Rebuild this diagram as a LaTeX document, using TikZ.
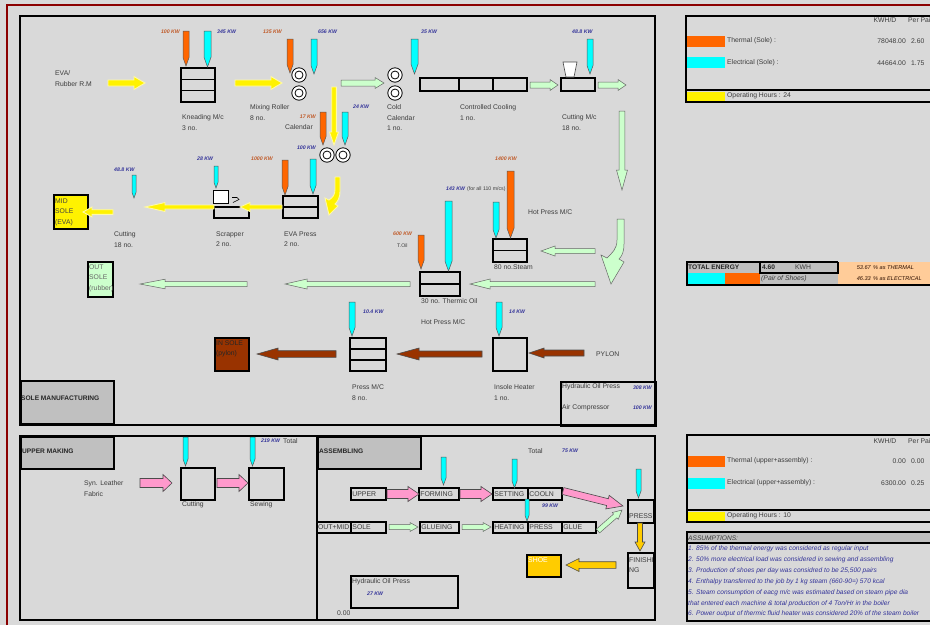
\documentclass[tikz,border=0pt]{standalone}
\usepackage{fontspec}
\setmainfont{Liberation Sans}
\usetikzlibrary{calc,positioning}

\definecolor{bggray}{HTML}{D9D9D9}
\definecolor{hdrgray}{HTML}{C0C0C0}
\definecolor{framered}{HTML}{8B0000}
\definecolor{thermal}{HTML}{FF6600}
\definecolor{elec}{HTML}{00FFFF}
\definecolor{paleg}{HTML}{CCFFCC}
\definecolor{pinkish}{HTML}{FF99CC}
\definecolor{brownish}{HTML}{993300}
\definecolor{gold}{HTML}{FFCC00}
\definecolor{peach}{HTML}{FFCC99}
\definecolor{kwblue}{HTML}{333399}
\definecolor{kworange}{HTML}{C05A28}
\definecolor{txtgray}{HTML}{3C3C3C}

% feed pin: colour, x left, x right, y top, y tip
\newcommand{\feed}[5]{%
  \draw[pinline,fill=#1] (#2,#4) -- (#3,#4) -- (#3,{#5-1.4*(#3-#2)}) -- ({(#2+#3)/2},#5) -- (#2,{#5-1.4*(#3-#2)}) -- cycle;}
% block arrow: style, from, to, shaft half, head half, head length
\newcommand{\blockarrow}[6]{%
  \coordinate (ba-s) at #2;
  \coordinate (ba-e) at #3;
  \coordinate (ba-h) at ($(ba-e)!#6pt!(ba-s)$);
  \draw[#1] ($(ba-s)!#4pt!90:(ba-e)$) -- ($(ba-h)!#4pt!90:(ba-e)$) -- ($(ba-h)!#5pt!90:(ba-e)$) -- (ba-e)
    -- ($(ba-h)!#5pt!-90:(ba-e)$) -- ($(ba-h)!#4pt!-90:(ba-e)$) -- ($(ba-s)!#4pt!-90:(ba-e)$) -- cycle;}
% machine box: options, name, x1, y1, x2, y2
\newcommand{\machine}[6][]{%
  \node[mc,anchor=north west,minimum width={#5-#3},minimum height={#6-#4},#1] (#2) at (#3,#4) {};}
\newcommand{\hdiv}[2]{\draw[mc] ($(#1.north west)!#2!(#1.south west)$) -- ($(#1.north east)!#2!(#1.south east)$);}
\newcommand{\vdiv}[2]{\draw[mc] ($(#1.north west)!#2!(#1.north east)$) -- ($(#1.south west)!#2!(#1.south east)$);}
\newcommand{\roller}[2]{\draw[roll] (#1,#2) circle (7.2) (#1,#2) circle (4);}

\begin{document}
\begin{tikzpicture}[x=1pt,y=-1pt,
  panel/.style={draw=black,line width=1.6pt},
  mc/.style={draw=black,line width=1.3pt,inner sep=0pt,outer sep=0pt},
  roll/.style={draw=black,line width=0.8pt,fill=white},
  pinline/.style={draw=black!65,line width=0.5pt},
  yarrow/.style={fill=yellow,draw=yellow!35!white,line width=0.9pt},
  garrow/.style={fill=paleg,draw=black!60,line width=0.5pt},
  karrow/.style={fill=pinkish,draw=black!70,line width=0.6pt},
  brarrow/.style={fill=brownish,draw=black!70,line width=0.6pt},
  darrow/.style={fill=gold,draw=black!70,line width=0.6pt},
  txt/.style={font=\fontsize{6.8}{10.5}\selectfont,text=txtgray,inner sep=0pt,anchor=west},
  mtxt/.style={txt,align=left,anchor=north west},
  kwb/.style={font=\fontsize{5.2}{6}\selectfont\bfseries\itshape,text=kwblue,inner sep=0pt,anchor=west},
  kwo/.style={kwb,text=kworange},
  small/.style={font=\fontsize{5.2}{6}\selectfont,text=txtgray,inner sep=0pt,anchor=west},
  hdr/.style={font=\fontsize{6.6}{8}\selectfont\bfseries,text=black!85,inner sep=0pt,anchor=west},
  btxt/.style={font=\fontsize{6.9}{8}\selectfont,text=txtgray,inner sep=0pt,anchor=west},
  asm/.style={font=\fontsize{6.6}{8}\selectfont\itshape,text=kwblue,inner sep=0pt,anchor=west}
]
\useasboundingbox (0,0) rectangle (930,625);
\clip (0,0) rectangle (930,625);
\fill[bggray] (0,0) rectangle (930,625);
\draw[framered,line width=2pt] (6.5,625) -- (6.5,5) -- (930,5);

% ---------------- sole manufacturing
\draw[panel] (20,16) rectangle (655,425);
\node[panel,fill=hdrgray,anchor=south west,minimum width=93,minimum height=43,inner sep=0pt] (solehdr) at (20,425) {};
\node[hdr] (solehdr-t) at (21,398) {SOLE MANUFACTURING};
\node[panel,anchor=north west,minimum width=95,minimum height=44,inner sep=0pt] (hydsole) at (560,381) {};
\node[txt] (hydsole-a) at (562,387) {Hydraulic Oil Press};
\node[kwb,anchor=east] (hydsole-b) at (652,388) {308 KW};
\node[txt] (aircomp-a) at (562,408) {Air Compressor};
\node[kwb,anchor=east] (aircomp-b) at (652,408) {100 KW};

% machines
\machine{knead}{181}{68}{215}{102}
\hdiv{knead}{1/3} \hdiv{knead}{2/3}
\machine{ccool}{420}{78}{527}{91}
\vdiv{ccool}{0.364} \vdiv{ccool}{0.682}
\machine{cutmc}{561}{78}{595}{91}
\draw[fill=white,draw=black!70,line width=0.6pt] (563,62) -- (577,62) -- (574,77) -- (566,77) -- cycle;
\machine{evapress}{283}{196}{318}{218}
\hdiv{evapress}{0.5}
\machine{scrap}{214}{207}{249}{218}
\machine[fill=white,line width=0.7pt]{scraptop}{213}{190}{228}{203}
\draw[line width=0.6pt] (232,197.5) -- (237,197.5) -- (239,199.5) -- (233,202.5);
\machine{steam}{493}{239}{527}{262}
\hdiv{steam}{0.5}
\machine{thermic}{420}{272}{460}{296}
\hdiv{thermic}{0.5}
\machine{pressmc}{350}{338}{386}{371}
\hdiv{pressmc}{1/3} \hdiv{pressmc}{2/3}
\machine{heater}{493}{338}{527}{371}
\machine[fill=yellow]{midsole}{54}{195}{88}{229}
\node[mtxt,text=black!75] (midsole-t) at (55,198.5) {MID\\SOLE\\(EVA)};
\machine[fill=paleg]{outsole}{88}{262}{113}{297}
\node[mtxt,text=black!60] (outsole-t) at (89,264.5) {OUT\\SOLE\\(rubber)};
\machine[fill=brownish]{insole}{215}{338}{249}{371}
\node[mtxt,text=black!85] (insole-t) at (216,340.5) {IN SOLE\\(pylon)};

\roller{299}{75} \roller{299}{93}
\roller{327}{155} \roller{343}{155}
\roller{395}{75} \roller{395}{93}

% feed pins
\feed{thermal}{183}{189}{31}{66}
\feed{elec}{204}{211}{31}{67}
\feed{thermal}{287}{293}{39}{73}
\feed{elec}{311}{317}{39}{74}
\feed{thermal}{320}{326}{112}{145}
\feed{elec}{342}{348}{112}{145}
\feed{elec}{411}{418}{39}{74}
\feed{elec}{587}{593}{39}{74}
\feed{elec}{132}{136}{175}{198}
\feed{elec}{214}{218}{166}{188}
\feed{thermal}{282}{288}{160}{195}
\feed{elec}{310}{316}{159}{194}
\feed{thermal}{507}{514}{171}{238}
\feed{elec}{493}{499}{202}{238}
\feed{elec}{445}{452}{201}{271}
\feed{thermal}{418}{424}{235}{269}
\feed{elec}{349}{355}{302}{336}
\feed{elec}{496}{502}{302}{336}

% labels
\node[kwo,anchor=east] (kw1) at (180,32) {100 KW};
\node[kwb] (kw2) at (217,32) {345 KW};
\node[kwo,anchor=east] (kw3) at (282,32) {135 KW};
\node[kwb] (kw4) at (318,32) {656 KW};
\node[kwo,anchor=east] (kw5) at (316,117) {17 KW};
\node[kwb,anchor=east] (kw6) at (316,148) {100 KW};
\node[kwb] (kw7) at (353,107) {24 KW};
\node[kwb] (kw8) at (421,32) {35 KW};
\node[kwb] (kw9) at (572,32) {48.8 KW};
\node[kwb] (kw10) at (114,170) {48.8 KW};
\node[kwb] (kw11) at (197,159) {28 KW};
\node[kwo] (kw12) at (251,159) {1000 KW};
\node[kwo] (kw13) at (495,159) {1400 KW};
\node[kwb] (kw14) at (446,189) {143 KW};
\node[small] (kw14b) at (467,189) {(for all 110 m/cs)};
\node[kwo] (kw15) at (393,234) {600 KW};
\node[small] (toil) at (397,246) {T.Oil};
\node[kwb] (kw16) at (363,312) {10.4 KW};
\node[kwb] (kw17) at (509,312) {14 KW};

\node[mtxt] (evarm) at (55,70.5) {EVA/\\Rubber R.M};
\node[mtxt] (knead-t) at (182,114.5) {Kneading M/c\\ 3 no.};
\node[mtxt] (mixing-t) at (250,104.5) {Mixing Roller\\8 no.};
\node[txt] (calendar-t) at (285,127) {Calendar};
\node[mtxt] (cold-t) at (387,104.5) {Cold\\Calendar\\1 no.};
\node[mtxt] (ccool-t) at (460,104.5) {Controlled Cooling\\1 no.};
\node[mtxt] (cutmc-t) at (562,114.5) {Cutting M/c\\18 no.};
\node[txt] (hotpress-t) at (528,212) {Hot Press M/C};
\node[txt] (steam-t) at (494,267) {80 no.Steam};
\node[txt] (thermic-t) at (421,301) {30 no. Thermic Oil};
\node[txt] (hotpress-t2) at (421,322) {Hot Press M/C};
\node[mtxt] (cut-t) at (114,231.5) {Cutting\\18 no.};
\node[mtxt] (scrap-t) at (216,231.5) {Scrapper\\2 no.};
\node[mtxt] (evapress-t) at (284,231.5) {EVA Press\\2 no.};
\node[mtxt] (pressmc-t) at (352,384.5) {Press M/C\\8 no.};
\node[mtxt] (heater-t) at (494,384.5) {Insole Heater\\1 no.};
\node[txt] (pylon) at (596,354) {PYLON};

% flow arrows
\blockarrow{yarrow}{(108,83)}{(145,83)}{3}{6.5}{11}
\blockarrow{yarrow}{(235,83)}{(282,83)}{3}{6.5}{11}
\blockarrow{yarrow}{(334,87)}{(334,145)}{2.3}{4.5}{13}
\blockarrow{yarrow}{(282,207)}{(240,207)}{2}{4.5}{10}
\blockarrow{yarrow}{(214,207)}{(145,207)}{2}{4.5}{20}
\blockarrow{yarrow}{(113,212)}{(83,212)}{2.3}{5}{9}
\draw[yarrow] (335,177) -- (340,177) -- (340,191) .. controls (340,199) and (337,202) .. (335,204)
  -- (338,206) -- (329,215) -- (325,198) -- (329,200) .. controls (333,197) and (335,195) .. (335,189) -- cycle;
\blockarrow{garrow}{(341,83)}{(384,83)}{3}{5.5}{9}
\blockarrow{garrow}{(530,85)}{(558,85)}{3}{5.5}{8}
\blockarrow{garrow}{(598,85)}{(626,85)}{3}{5.5}{8}
\blockarrow{garrow}{(622,111)}{(622,190)}{2.8}{5.5}{20}
\draw[garrow] (617,219) -- (624,219) -- (624,244) .. controls (624,252) and (622,256) .. (619,259)
  -- (624,262) -- (611,284) -- (601,255) -- (607,258) .. controls (612,253) and (617,249) .. (617,240) -- cycle;
\blockarrow{garrow}{(595,251)}{(541,251)}{2.5}{5}{14}
\blockarrow{garrow}{(595,284)}{(470,284)}{2.5}{5}{20}
\blockarrow{garrow}{(410,284)}{(285,284)}{2.5}{5}{22}
\blockarrow{garrow}{(247,284)}{(140,284)}{2.5}{4.8}{25}
\blockarrow{brarrow}{(336,354)}{(257,354)}{3.3}{6}{21}
\blockarrow{brarrow}{(482,354)}{(397,354)}{3}{6}{22}
\blockarrow{brarrow}{(584,353)}{(529,353)}{3}{5}{15}

% ---------------- sole energy table
\draw[panel] (935,16) -- (686,16) -- (686,102) -- (935,102);
\draw[panel] (686,90) -- (935,90);
\fill[thermal] (687,36) rectangle (725,47);
\fill[elec] (687,57) rectangle (725,68);
\fill[yellow] (687,91.5) rectangle (725,100.5);
\node[txt,anchor=center] (kwhd1) at (885,20) {KWH/D};
\node[txt] (pp1) at (908,20) {Per Pair};
\node[txt] (th1) at (727,41) {Thermal (Sole) :};
\node[txt,anchor=east] (th1v) at (906,41) {78048.00};
\node[txt] (th1p) at (911,41) {2.60};
\node[txt] (el1) at (727,63) {Electrical (Sole) :};
\node[txt,anchor=east] (el1v) at (906,63) {44664.00};
\node[txt] (el1p) at (911,63) {1.75};
\node[txt] (oh1) at (727,96) {Operating Hours : 24};

% ---------------- total energy
\fill[hdrgray] (687,262) rectangle (838,284);
\fill[elec] (687,273) rectangle (725,284);
\fill[thermal] (725,273) rectangle (760,284);
\fill[peach] (838,262) rectangle (935,284);
\draw[panel] (838,262) -- (687,262) -- (687,285) -- (935,285);
\draw[panel] (760,262) -- (760,273) -- (838,273) -- (838,262);
\node[hdr] (tot) at (688,267.5) {TOTAL ENERGY};
\node[hdr] (totv) at (762,267.5) {4.60};
\node[txt,anchor=center] (totu) at (803,267.5) {KWH};
\node[txt,font=\fontsize{6.8}{8}\selectfont\itshape] (totp) at (761,278.5) {(Pair of Shoes)};
\node[small,font=\fontsize{5.6}{7}\selectfont\itshape,anchor=east,text=black!70!brownish] (pth) at (871,267.5) {53.67};
\node[small,font=\fontsize{5.6}{7}\selectfont\itshape,text=black!70!brownish] (pth2) at (873,267.5) {\% as THERMAL};
\node[small,font=\fontsize{5.6}{7}\selectfont\itshape,anchor=east,text=black!70!brownish] (pel) at (871,278.5) {46.33};
\node[small,font=\fontsize{5.6}{7}\selectfont\itshape,text=black!70!brownish] (pel2) at (873,278.5) {\% as ELECTRICAL};

% ---------------- upper making
\draw[panel] (20,436) rectangle (317,620);
\node[panel,fill=hdrgray,anchor=north west,minimum width=93,minimum height=32,inner sep=0pt] (upperhdr) at (20,436) {};
\node[hdr] (upperhdr-t) at (22,451) {UPPER MAKING};
\machine{ucut}{181}{468}{215}{500}
\machine{usew}{249}{468}{284}{500}
\feed{elec}{183}{188}{437}{466}
\feed{elec}{250}{255}{437}{466}
\node[kwb] (kw18) at (261,441) {219 KW};
\node[txt] (kw18t) at (283,441) {Total};
\node[mtxt] (synleather) at (84,480.5) {Syn. Leather\\Fabric};
\node[txt] (ucut-t) at (182,505) {Cutting};
\node[txt] (usew-t) at (250,505) {Sewing};
\blockarrow{karrow}{(140,483)}{(172,483)}{4.5}{8.5}{9}
\blockarrow{karrow}{(217,483)}{(248,483)}{4.5}{8.5}{9}

% ---------------- assembling
\draw[panel] (317,436) rectangle (655,620);
\node[panel,fill=hdrgray,anchor=north west,minimum width=103,minimum height=32,inner sep=0pt] (asmhdr) at (317,436) {};
\node[hdr] (asmhdr-t) at (319,451) {ASSEMBLING};
\node[txt] (asmtot) at (528,451) {Total};
\node[kwb] (kw19) at (562,451) {75 KW};
\machine{upper}{351}{488}{386}{500}
\machine{forming}{419}{488}{459}{500}
\machine{setting}{493}{488}{528}{500}
\machine{cooln}{528}{488}{562}{500}
\machine{outmid}{317}{522}{351}{533}
\machine{sole}{351}{522}{386}{533}
\machine{glueing}{420}{522}{459}{533}
\machine{heating}{493}{522}{528}{533}
\machine{press}{528}{522}{562}{533}
\machine{glue}{562}{522}{596}{533}
\machine{bigpress}{628}{500}{654}{523}
\machine{finishing}{628}{553}{654}{588}
\machine[fill=gold]{shoe}{527}{555}{561}{577}
\machine{hydasm}{351}{576}{458}{608}
\node[btxt] (upper-t) at ([xshift=1.2pt]upper.west) {UPPER};
\node[btxt] (forming-t) at ([xshift=1.2pt]forming.west) {FORMING};
\node[btxt] (setting-t) at ([xshift=1.2pt]setting.west) {SETTING};
\node[btxt] (cooln-t) at ([xshift=1.2pt]cooln.west) {COOLN};
\node[btxt] (outmid-t) at ([xshift=0.8pt]outmid.west) {OUT+MID};
\node[btxt] (sole-t) at ([xshift=1.2pt]sole.west) {SOLE};
\node[btxt] (glueing-t) at ([xshift=1.2pt]glueing.west) {GLUEING};
\node[btxt] (heating-t) at ([xshift=1.2pt]heating.west) {HEATING};
\node[btxt] (press-t) at ([xshift=1.2pt]press.west) {PRESS};
\node[btxt] (glue-t) at ([xshift=1.2pt]glue.west) {GLUE};
\node[btxt] (bigpress-t) at (629,516) {PRESS};
\node[btxt,align=left,anchor=north west,font=\fontsize{6.9}{10}\selectfont] (finishing-t) at (629,557.5) {FINISHI\\NG};
\node[btxt,text=white] (shoe-t) at (528,560) {SHOE};
\node[txt] (hydasm-t) at (352,582) {Hydraulic Oil Press};
\node[kwb] (kw20) at (367,594) {27 KW};
\node[txt] (zero) at (337,613) {0.00};
\node[kwb] (kw21) at (542,506) {99 KW};
\feed{elec}{441}{446}{457}{485}
\feed{elec}{512}{517}{459}{488}
\feed{elec}{636}{641}{469}{498}
\feed{elec}{525}{529}{499}{521}
\blockarrow{karrow}{(387,494)}{(419,494)}{4.5}{7.5}{11}
\blockarrow{karrow}{(460,494)}{(492,494)}{4.5}{7.5}{11}
\blockarrow{karrow}{(563,491)}{(623,506)}{3.5}{7}{16}
\blockarrow{garrow}{(389,527)}{(418,527)}{2.5}{4.5}{8}
\blockarrow{garrow}{(462,527)}{(491,527)}{2.5}{4.5}{8}
\blockarrow{garrow}{(598,531)}{(622,510)}{2.5}{4.5}{9}
\blockarrow{darrow}{(640,523)}{(640,551)}{2.5}{5}{9}
\blockarrow{darrow}{(616,565)}{(566,565)}{3.3}{6.5}{13}

% ---------------- upper + assembly table
\draw[panel] (935,435) -- (687,435) -- (687,522) -- (935,522);
\draw[panel] (687,510) -- (935,510);
\fill[thermal] (688,456) rectangle (725,467);
\fill[elec] (688,478) rectangle (725,489);
\fill[yellow] (688,511.5) rectangle (725,520.5);
\node[txt,anchor=center] (kwhd2) at (885,441) {KWH/D};
\node[txt] (pp2) at (908,441) {Per Pair};
\node[txt] (th2) at (727,461) {Thermal (upper+assembly) :};
\node[txt,anchor=east] (th2v) at (906,461) {0.00};
\node[txt] (th2p) at (911,461) {0.00};
\node[txt] (el2) at (727,483) {Electrical (upper+assembly) :};
\node[txt,anchor=east] (el2v) at (906,483) {6300.00};
\node[txt] (el2p) at (911,483) {0.25};
\node[txt] (oh2) at (727,516) {Operating Hours : 10};

% ---------------- assumptions
\fill[hdrgray] (687,532) rectangle (935,543);
\draw[panel] (935,532) -- (687,532) -- (687,621) -- (935,621);
\draw[panel] (687,543) -- (935,543);
\node[asm,text=txtgray] (asm0) at (688,538) {ASSUMPTIONS:};
\node[asm] (asm1) at (688,549) {1. 85\% of the thermal energy was considered as regular input};
\node[asm] (asm2) at (688,560) {2. 50\% more electrical load was considered in sewing and assembling};
\node[asm] (asm3) at (688,571) {3. Production of shoes per day was considred to be 25,500 pairs};
\node[asm] (asm4) at (688,582) {4. Enthalpy transferred to the job by 1 kg steam (660-90=) 570 kcal};
\node[asm] (asm5) at (688,593) {5. Steam consumption of eacg m/c was estimated based on steam pipe dia};
\node[asm] (asm5b) at (688,603.5) {that entered each machine \& total production of 4 Ton/Hr in the boiler};
\node[asm] (asm6) at (688,614) {6. Power output of thermic fluid heater was considered 20\% of the steam boiler};
\end{tikzpicture}
\end{document}
